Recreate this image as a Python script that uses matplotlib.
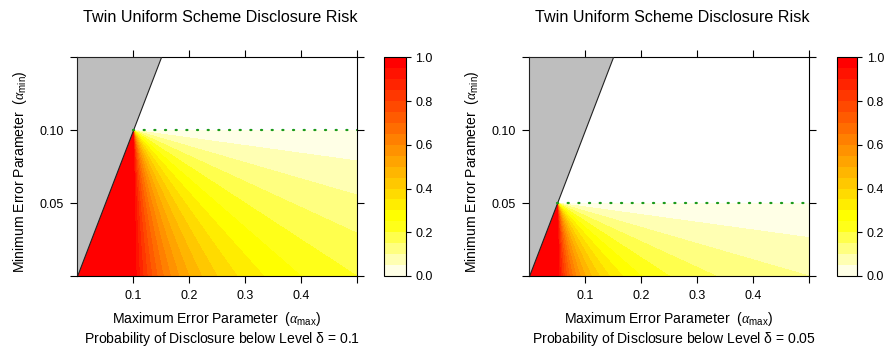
import colorsys
import numpy as np
import matplotlib
matplotlib.use("Agg")
import matplotlib.pyplot as plt
from matplotlib.patches import Polygon

plt.rcParams['font.family'] = ['Liberation Sans', 'DejaVu Sans']
plt.rcParams['mathtext.fontset'] = 'custom'
plt.rcParams['mathtext.rm'] = 'Liberation Sans'
plt.rcParams['mathtext.it'] = 'Liberation Serif:italic'
plt.rcParams['mathtext.sf'] = 'Liberation Sans'

# ---- data ----
deltas = [0.1, 0.05]
delta_labels = ["0.1", "0.05"]
x_range = [0.0, 0.5]
y_range = [0.0, 0.15]
x_ticks = [0.1, 0.2, 0.3, 0.4, 0.5]
x_ticklabels = ["0.1", "0.2", "0.3", "0.4", ""]
y_ticks = [0.0, 0.05, 0.10, 0.15]
y_ticklabels = ["", "0.05", "0.10", ""]
levels = np.linspace(0, 1, 21)
cb_ticks = [0.0, 0.2, 0.4, 0.6, 0.8, 1.0]
cb_ticklabels = ["0.0", "0.2", "0.4", "0.6", "0.8", "1.0"]
title = "Twin Uniform Scheme Disclosure Risk"


def heat_colors(n):
    j = n // 4
    i = n - j
    cols = []
    for h in np.linspace(0, 1 / 6, i):
        cols.append(colorsys.hsv_to_rgb(h, 1, 1))
    for s in np.linspace(1 - 1 / (2 * j), 1 / (2 * j), j):
        cols.append(colorsys.hsv_to_rgb(1 / 6, s, 1))
    return cols


band_colors = heat_colors(20)[::-1]

W, H = 889, 347
fig = plt.figure(figsize=(W / 100, H / 100), dpi=100)


def fx(px):
    return px / W


def fy(py):
    return 1 - py / H


panels = [
    dict(ax=(77.3, 356.7), cb=(384, 406)),
    dict(ax=(529.3, 809.0), cb=(837.3, 857.3)),
]
top_px, bot_px = 57.3, 276.0

xg = np.linspace(x_range[0], x_range[1], 1500)
yg = np.linspace(y_range[0], y_range[1], 900)
X, Y = np.meshgrid(xg, yg)

fs_tick = 9.0
fs_lab = 10.1
fs_title = 11.6
for delta, dlab, p in zip(deltas, delta_labels, panels):
    l, r = p['ax']
    ax = fig.add_axes([fx(l), fy(bot_px), fx(r - l), (bot_px - top_px) / H])
    with np.errstate(divide='ignore', invalid='ignore'):
        Z = (delta - Y) / (X - Y)
    Z = np.clip(Z, 0, 1)
    Z[(Y >= delta) | (X <= Y)] = np.nan
    cf = ax.contourf(X, Y, Z, levels=levels, colors=band_colors, antialiased=False)
    poly = Polygon([(0, 0), (0, 0.15), (0.15, 0.15)], closed=True,
                   facecolor='#BEBEBE', edgecolor='#222222', lw=0.8, zorder=3)
    ax.add_patch(poly)
    ax.plot([delta, 0.5], [delta, delta], color='#1a9a1a', lw=1.6,
            linestyle=(0, (0.5, 4.3)), dash_capstyle='round', zorder=4)
    ax.set_xlim(*x_range)
    ax.set_ylim(*y_range)
    ax.set_xticks(x_ticks)
    ax.set_xticklabels(x_ticklabels)
    ax.set_yticks(y_ticks)
    ax.set_yticklabels(y_ticklabels)
    ax.tick_params(direction='out', length=5.3, width=0.8, labelsize=fs_tick,
                   top=True, right=True, colors='black')
    ax.tick_params(axis='x', pad=4.8)
    ax.tick_params(axis='y', pad=4.3)
    for s in ax.spines.values():
        s.set_linewidth(0.8)
    cx = (l + r) / 2
    fig.text(fx(cx + 3), fy(22), title, ha='center', va='baseline', fontsize=fs_title)
    fig.text(fx(cx), fy(323.5),
             r'Maximum Error Parameter  ($\alpha_{\mathrm{max}}$)',
             ha='center', va='baseline', fontsize=fs_lab)
    fig.text(fx(cx + 5), fy(343.5),
             r'Probability of Disclosure below Level $\mathrm{\delta}\,=\,$' + dlab,
             ha='center', va='baseline', fontsize=fs_lab)
    fig.text(fx(l - 53.3), fy(171.5),
             r'Minimum Error Parameter  ($\alpha_{\mathrm{min}}$)',
             ha='center', va='baseline', rotation=90, rotation_mode='anchor',
             fontsize=fs_lab)

    cl, cr = p['cb']
    cax = fig.add_axes([fx(cl), fy(bot_px), fx(cr - cl), (bot_px - top_px) / H])
    cb = fig.colorbar(cf, cax=cax)
    cb.set_ticks(cb_ticks)
    cb.set_ticklabels(cb_ticklabels)
    cax.tick_params(direction='out', length=3.8, width=0.8, labelsize=fs_tick, pad=2.9)
    cb.outline.set_linewidth(0.8)

fig.savefig("out.png", dpi=100)
